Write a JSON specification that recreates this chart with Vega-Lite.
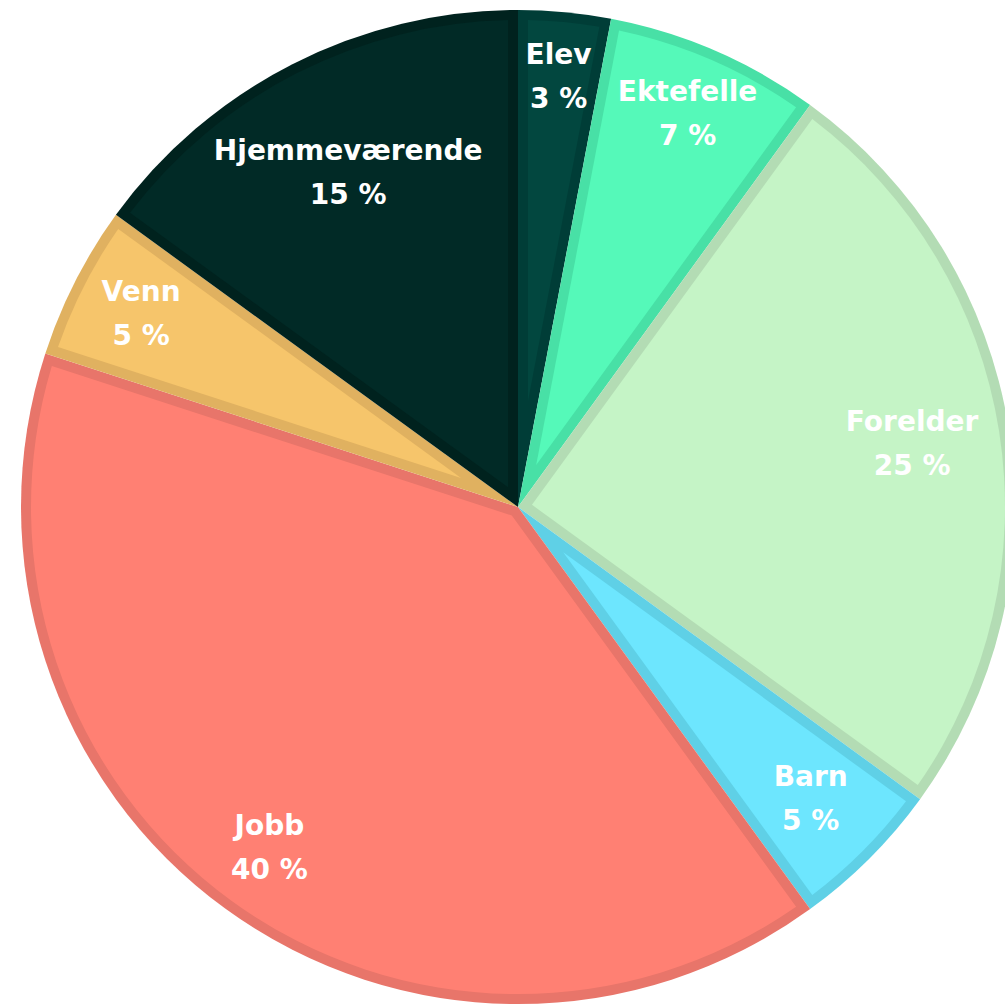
{
  "$schema": "https://vega.github.io/schema/vega-lite/v6.json",
  "autosize": {"type": "none"},
  "width": 974,
  "height": 998,
  "padding": {"left": 31, "top": 8, "right": 0, "bottom": 0},
  "background": "white",
  "view": {"stroke": null},
  "data": {
    "values": [
      {"order": 1, "kategori": "Elev", "andel": 3, "tekst": "3 %"},
      {"order": 2, "kategori": "Ektefelle", "andel": 7, "tekst": "7 %"},
      {"order": 3, "kategori": "Forelder", "andel": 25, "tekst": "25 %"},
      {"order": 4, "kategori": "Barn", "andel": 5, "tekst": "5 %"},
      {"order": 5, "kategori": "Jobb", "andel": 40, "tekst": "40 %"},
      {"order": 6, "kategori": "Venn", "andel": 5, "tekst": "5 %"},
      {"order": 7, "kategori": "Hjemmeværende", "andel": 15, "tekst": "15 %"}
    ]
  },
  "encoding": {
    "theta": {"field": "andel", "type": "quantitative", "stack": true},
    "order": {"field": "order", "type": "quantitative", "sort": "ascending"}
  },
  "layer": [
    {
      "mark": {"type": "arc", "outerRadius": 497},
      "encoding": {
        "fill": {
          "field": "kategori", "type": "nominal", "legend": null,
          "scale": {
            "domain": ["Elev", "Ektefelle", "Forelder", "Barn", "Jobb", "Venn", "Hjemmeværende"],
            "range": ["#003d37", "#48e0a6", "#b3dcb4", "#5fd0e6", "#e8756a", "#e0b160", "#00221e"]
          }
        }
      }
    },
    {
      "mark": {"type": "arc", "outerRadius": 487,
        "innerRadius": {"expr": "10 / sin(datum.andel / 100 * PI)"},
        "padAngle": {"expr": "2 * asin(10 / sqrt(pow(10 / sin(datum.andel / 100 * PI), 2) + 487 * 487))"}},
      "encoding": {
        "fill": {
          "field": "kategori", "type": "nominal", "legend": null,
          "scale": {
            "domain": ["Elev", "Ektefelle", "Forelder", "Barn", "Jobb", "Venn", "Hjemmeværende"],
            "range": ["#02473f", "#55f9b9", "#c5f4c6", "#6de6fe", "#ff8073", "#f6c56b", "#012a26"]
          }
        }
      }
    },
    {
      "mark": {"type": "text", "dy": -22, "font": "DejaVu Sans", "fontWeight": "bold", "fontSize": 28, "fill": "white", "baseline": "middle", "align": "center", "letterSpacing": 0.8,
        "radius": {"expr": "datum.kategori === 'Hjemmeværende' ? 374 : datum.kategori === 'Forelder' ? 399 : datum.kategori === 'Barn' ? 414 : datum.kategori === 'Elev' ? 431 : datum.kategori === 'Ektefelle' ? 427 : 423"}},
      "encoding": {
        "text": {"field": "kategori", "type": "nominal"}
      }
    },
    {
      "mark": {"type": "text", "dy": 22, "font": "DejaVu Sans", "fontWeight": "bold", "fontSize": 28, "fill": "white", "baseline": "middle", "align": "center", "letterSpacing": 0.8,
        "radius": {"expr": "datum.kategori === 'Hjemmeværende' ? 374 : datum.kategori === 'Forelder' ? 399 : datum.kategori === 'Barn' ? 414 : datum.kategori === 'Elev' ? 431 : datum.kategori === 'Ektefelle' ? 427 : 423"}},
      "encoding": {
        "text": {"field": "tekst", "type": "nominal"}
      }
    }
  ],
  "resolve": {"scale": {"fill": "independent"}}
}
